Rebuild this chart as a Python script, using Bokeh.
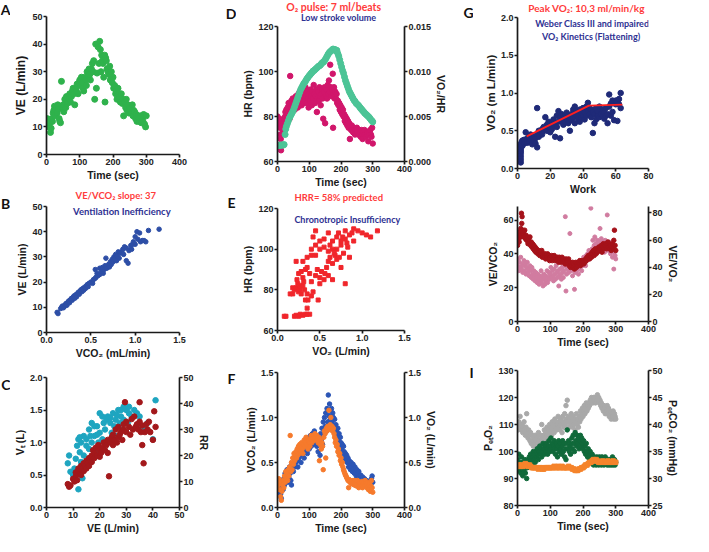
from bokeh.plotting import figure
from bokeh.models import Range1d, LinearAxis, FixedTicker, PrintfTickFormatter, Label
from bokeh.layouts import row, column
from bokeh.embed import file_html
from bokeh.resources import INLINE

AXF = "Liberation Sans"
TF = "Lato"

# ---------------- data ----------------
A_pts = [(0,12),(2,13),(4,11),(6,12.5),(8,10),(10,11.5),(12,8),(14,9.5),(16,13),(18,12),(20,15),(22,16),
         (24,17.5),(26,14),(28,16),(30,17),(32,15),(34,18),(36,16.5),(38,13),(40,12),(42,11.5),(45,26.5),
         (48,17),(50,18),(52,15.5),(55,20),(58,17),(60,21),(62,18.5),(65,19),(68,20.5),(70,22),(72,19),
         (75,21),(78,23),(80,24),(82,22),(85,18),(88,24),(90,23),(92,25.5),(95,22),(98,26),(100,27),
         (102,25),(105,28),(108,26),(110,24),(112,23),(115,28),(118,27),(120,25),(122,30),(125,28.5),
         (128,31),(130,29),(132,27),(135,31),(138,33),(140,30),(142,34),(145,20),(148,40),(150,24),
         (152,29.5),(155,39),(158,33),(160,41),(162,38),(164,30),(166,36),(168,34),(170,33),(172,28),
         (175,36),(176,19),(178,35),(180,34),(182,31),(185,30),(188,29),(190,32),(192,27),(195,30),
         (198,26),(200,28),(202,24),(205,25),(208,22),(210,23),(212,20),(215,24),(218,22),(220,21),
         (222,19),(225,22),(228,18.5),(230,20),(232,14),(235,19),(238,17),(240,20),(242,16),(245,18),
         (248,15),(250,17),(252,16.5),(255,15),(258,18),(260,14),(262,16),(265,15.5),(268,13),(270,14.5),
         (272,12),(275,14),(278,13),(280,12),(282,14),(285,11.5),(288,13),(290,12),(292,14.5),(295,11),
         (298,10),(300,14)]

B_pts = [(0.12,8),(0.13,7.5),(0.16,9.5),(0.17,10),(0.18,10.5),(0.19,9.8),(0.2,10.2),(0.21,11),(0.22,11.5),
         (0.23,10.8),(0.24,12),(0.25,12.5),(0.26,11.8),(0.27,13),(0.28,13.5),(0.29,12.8),(0.3,14),(0.31,14.5),
         (0.32,13.6),(0.33,15),(0.34,14.2),(0.35,15.5),(0.36,16),(0.37,15.2),(0.38,16.5),(0.39,17),(0.4,16.2),
         (0.41,17.5),(0.42,16.8),(0.43,18),(0.44,17.5),(0.45,18.5),(0.46,19),(0.47,18.2),(0.48,19.5),(0.5,20),
         (0.52,19.5),(0.53,21),(0.55,21.5),(0.55,25),(0.56,22),(0.57,23.5),(0.58,22.5),(0.6,23),(0.6,25.5),
         (0.62,24),(0.63,25.8),(0.64,23.5),(0.65,25),(0.66,26.5),(0.67,29.5),(0.68,25.5),(0.7,27),(0.71,26),
         (0.72,28),(0.73,27),(0.74,29),(0.75,28),(0.76,30),(0.77,29),(0.78,31),(0.79,28.5),(0.8,30.5),
         (0.81,32),(0.82,29.5),(0.83,31.5),(0.85,32),(0.86,33),(0.87,31),(0.88,34),(0.9,28.5),(0.9,33.5),
         (0.92,27.5),(0.93,32.5),(0.95,34.5),(0.96,33),(0.97,35),(0.98,36),(1.0,38),(1.0,35),(1.02,40),
         (1.03,37),(1.05,39.5),(1.06,36),(1.08,36.5),(1.1,36.5),(1.12,36),(1.15,40.5),(1.27,41)]

C_vt = [(8,0.68),(8.5,0.8),(9,0.55),(10,0.5),(10.5,0.6),(11,0.75),(11.5,0.95),(12,1.05),(12,0.28),
        (12.5,0.85),(13,0.7),(13,1.0),(13.5,0.45),(14,1.1),(14,0.8),(15,0.95),(15.5,0.65),(16,1.2),(16,0.9),
        (17,1.3),(17,1.0),(18,1.1),(18.5,0.85),(19,1.25),(19.5,1.0),(20,1.45),(20,1.15),(21,1.05),(21.5,1.3),
        (22,1.2),(22.5,1.35),(23,1.0),(23,1.4),(24,1.3),(24.5,1.15),(25,1.45),(25.5,1.25),(26,1.35),(26,1.1),
        (27,1.5),(27.5,1.3),(28,1.4),(28.5,1.2),(29,1.55),(29,1.35),(30,1.5),(30.5,1.3),(31,1.45),(32,1.4),
        (33,1.5),(34,1.45),(35,1.4),(36,1.25),(37,1.2),(38,1.3),(40,1.05),(41,1.65),(15,1.05),(18,1.25),
        (21,1.4),(24,1.38),(26.5,1.42),(28,1.5),(31,1.55),(12.5,1.08),(16.5,1.1),(19,1.12)]
C_rr = [(8,9),(8.5,8),(9,8.5),(10,11),(10.5,10),(11,12),(11,13.5),(11.5,10.5),(12,15),(12,14),(12.5,13),
        (13,16),(13,12.5),(13.5,15),(14,17),(14,14),(14.5,16),(15,18),(15,15),(15.5,17),(16,19),(16,16),
        (16.5,18),(17,20),(17,17.5),(17.5,22),(18,19),(18,21),(18.5,23),(19,20),(19.5,24),(20,22),(20,19.5),
        (20.5,21),(21,23),(21.5,25),(22,22),(22.5,24),(23,26),(23.5,12),(23,21),(24,25),(24.5,27),(25,24),
        (25,28),(25.5,26),(26,30),(26.5,25),(27,27),(27,31),(27.5,28),(28,29),(28.5,26),(29,30),(29.5,40.5),
        (29,32),(30,29),(30,33),(31,31),(31.5,28),(32,34),(32.5,30),(33,35),(33.5,31),(34,32),(34.5,30),
        (35,33),(35,40.5),(35.5,29),(36,31.5),(36,24),(36.5,17),(37,29),(38,30),(39,29),(40,26),(40.5,37),
        (41,31),(38.5,33),(37.5,32)]

D_hr = [(0,80),(2,78),(3,76),(5,77),(6,79),(8,75),(9,72),(10,70),(11,65),(12,67),(14,78),(15,76),(17,74),
        (18,77),(20,79),(22,76),(24,80),(25,82),(27,78),(28,83),(30,81),(32,84),(34,80),(35,86),(37,83),
        (38,79),(40,98),(42,84),(44,87),(45,82),(47,85),(48,88),(50,84),(52,86),(54,83),(56,87),(58,89),
        (60,85),(62,88),(64,84),(66,90),(68,86),(70,91),(72,87),(74,89),(76,85),(78,92),(80,88),(82,86),
        (84,90),(86,87),(88,93),(90,89),(92,86),(94,91),(96,88),(98,84),(100,90),(102,87),(104,92),(106,89),
        (108,85),(110,91),(112,88),(114,94),(116,90),(118,86),(120,89),(122,92),(124,82),(126,88),(128,91),
        (130,87),(132,93),(134,89),(136,85),(138,90),(140,92),(142,88),(144,79),(146,91),(148,93),(150,77),
        (152,89),(154,92),(156,88),(158,94),(160,90),(162,96),(164,91),(166,103),(168,93),(170,89),(172,92),
        (174,99),(175,75),(176,90),(178,93),(180,88),(182,91),(184,88),(186,90),(188,86),(190,87),(192,85),
        (194,86),(196,83),(198,85),(200,82),(202,84),(204,81),(206,83),(208,80),(210,81),(212,78),(214,80),
        (216,77),(218,79),(220,76),(222,78),(224,75),(226,77),(228,70),(230,76),(232,74),(234,76),(236,74),
        (238,73),(240,75),(242,74),(244,72),(246,74),(248,73),(250,75),(252,73),(254,72),(256,74),(258,72),
        (260,73),(262,71),(264,74),(266,72),(268,70),(270,73),(272,72),(274,74),(276,72),(278,71),(280,73),
        (282,72),(284,73),(286,69),(288,73),(290,72),(292,74),(294,72),(296,71),(298,75),(300,68)]
D_o2 = [(0,0.00175),(3,0.00180),(6,0.00178),(9,0.00183),(12,0.00180),(15,0.00185),(18,0.00182),(21,0.00188),
        (24,0.00300),(26,0.00360),(28,0.00390),(31,0.00420),(34,0.00450),(37,0.00480),(40,0.00500),
        (43,0.00520),(46,0.00540),(49,0.00560),(52,0.00590),(55,0.00620),(58,0.00650),(61,0.00680),
        (64,0.00710),(67,0.00740),(70,0.00770),(73,0.00800),(76,0.00820),(79,0.00840),(82,0.00860),
        (85,0.00875),(88,0.00890),(91,0.00910),(94,0.00925),(97,0.00940),(100,0.00955),(103,0.00965),
        (106,0.00980),(109,0.00990),(112,0.01005),(115,0.01010),(118,0.01020),(121,0.01030),(124,0.01040),
        (127,0.01050),(130,0.01060),(133,0.01065),(136,0.01075),(139,0.01090),(142,0.01100),(145,0.01105),
        (148,0.01120),(151,0.01135),(154,0.01155),(157,0.01175),(160,0.01195),(163,0.01210),(166,0.01220),
        (169,0.01230),(172,0.01240),(175,0.01250),(178,0.01240),(181,0.01245),(184,0.01230),(187,0.01235),
        (190,0.01200),(193,0.01170),(196,0.01130),(199,0.01090),(202,0.01050),(205,0.01010),(208,0.00980),
        (211,0.00940),(214,0.00900),(217,0.00870),(220,0.00840),(223,0.00810),(226,0.00780),(229,0.00760),
        (232,0.00740),(235,0.00720),(238,0.00700),(241,0.00680),(244,0.00670),(247,0.00650),(250,0.00640),
        (253,0.00630),(256,0.00620),(259,0.00605),(262,0.00590),(265,0.00580),(268,0.00565),(271,0.00555),
        (274,0.00540),(277,0.00530),(280,0.00520),(283,0.00510),(286,0.00500),(289,0.00490),(292,0.00475),
        (295,0.00460),(298,0.00450),(300,0.00440)]

E_pts = [(0.08,67),(0.1,67),(0.2,67),(0.22,67.5),(0.25,67),(0.27,68),(0.3,67.5),(0.33,68),(0.35,68),(0.38,68),
         (0.35,71),(0.33,75),(0.36,75),(0.48,75),(0.15,78),(0.18,78),(0.2,80),(0.22,81),(0.18,81),(0.25,79),
         (0.27,82),(0.3,82),(0.32,80),(0.35,78),(0.4,77),(0.42,79),(0.23,85),(0.25,88),(0.28,89),(0.3,86),
         (0.33,90),(0.35,91),(0.38,88),(0.22,94),(0.4,84),(0.45,87),(0.5,86),(0.5,83),(0.55,85),(0.6,87),
         (0.58,91),(0.65,85),(0.47,90),(0.3,94),(0.35,96),(0.4,97),(0.45,97),(0.4,100),(0.45,102),(0.5,100),
         (0.55,101),(0.6,99),(0.62,96),(0.65,93),(0.6,94),(0.7,95),(0.75,91),(0.7,100),(0.75,102),(0.78,98),
         (0.65,104),(0.7,106),(0.8,105),(0.85,107),(0.88,108),(0.9,110),(0.95,109),(1.0,108),(1.05,107),
         (1.1,106),(1.18,109),(0.6,108),(0.55,105),(0.45,109),(0.42,106),(0.5,104),(0.8,83),(0.85,96),
         (0.9,104),(0.65,100),(0.75,104),(0.8,109),(0.83,101),(0.68,97),(0.72,108),(0.62,102),(0.26,80),
         (0.28,78),(0.31,84),(0.24,83),(0.56,88),(0.52,89),(0.67,98),(0.73,96),(0.77,106),(0.82,103)]

F_co2 = [(0,0.25),(2,0.3),(4,0.22),(6,0.27),(8,0.18),(10,0.15),(12,0.1),(14,0.22),(16,0.28),(18,0.2),
         (20,0.32),(22,0.25),(24,0.38),(26,0.3),(28,0.35),(30,0.42),(32,0.28),(34,0.4),(36,0.33),(38,0.45),
         (40,0.38),(42,0.3),(44,0.25),(46,0.42),(48,0.48),(50,0.4),(52,0.5),(54,0.45),(56,0.55),(58,0.5),
         (60,0.58),(62,0.52),(64,0.45),(66,0.6),(68,0.55),(70,0.65),(72,0.58),(74,0.5),(76,0.62),(78,0.7),
         (80,0.6),(82,0.68),(84,0.55),(86,0.72),(88,0.62),(90,0.66),(92,0.75),(94,0.6),(96,0.7),(98,0.78),
         (100,0.65),(102,0.72),(104,0.8),(106,0.68),(108,0.75),(110,0.82),(112,0.7),(114,0.78),(116,0.85),
         (118,0.72),(120,0.8),(122,0.76),(124,0.68),(126,0.74),(128,0.62),(130,0.7),(132,0.78),(134,0.58),
         (136,0.82),(138,0.75),(140,0.88),(142,0.7),(144,0.95),(146,0.82),(148,1.0),(150,0.9),(152,1.05),
         (154,0.85),(156,1.1),(158,0.95),(160,1.25),(162,1.02),(164,1.15),(166,0.98),(168,1.08),(170,1.1),
         (172,0.95),(174,1.05),(176,1.0),(178,0.9),(180,0.98),(182,0.88),(184,0.92),(186,0.85),(188,0.8),
         (190,0.88),(192,0.75),(194,0.82),(196,0.7),(198,0.78),(200,0.72),(202,0.65),(204,0.7),(206,0.6),
         (208,0.68),(210,0.62),(212,0.55),(214,0.6),(216,0.52),(218,0.58),(220,0.5),(222,0.55),(224,0.45),
         (226,0.52),(228,0.48),(230,0.42),(232,0.5),(234,0.45),(236,0.4),(238,0.48),(240,0.42),(242,0.38),
         (244,0.45),(246,0.4),(248,0.35),(250,0.42),(252,0.38),(254,0.33),(256,0.4),(258,0.35),(260,0.3),
         (262,0.36),(264,0.32),(266,0.28),(268,0.34),(270,0.3),(272,0.27),(274,0.32),(276,0.28),(278,0.25),
         (280,0.3),(282,0.27),(284,0.24),(286,0.29),(288,0.26),(290,0.28),(292,0.24),(294,0.3),(296,0.32),
         (298,0.35),(300,0.28)]
F_o2 = [(0,0.3),(2,0.25),(4,0.32),(6,0.2),(8,0.28),(10,0.12),(12,0.08),(14,0.18),(16,0.25),(18,0.3),
        (20,0.22),(22,0.35),(24,0.28),(26,0.4),(28,0.32),(30,0.38),(32,0.3),(34,0.42),(36,0.35),(38,0.45),
        (40,0.8),(42,0.4),(44,0.5),(46,0.42),(48,0.55),(50,0.48),(52,0.6),(54,0.52),(56,0.58),(58,0.62),
        (60,0.55),(62,0.65),(64,0.58),(66,0.68),(68,0.6),(70,0.7),(72,0.62),(74,0.66),(76,0.72),(78,0.65),
        (80,0.6),(82,0.7),(84,0.75),(86,0.68),(88,0.72),(90,0.78),(92,0.7),(94,0.74),(96,0.65),(98,0.75),
        (100,0.72),(102,0.68),(104,0.76),(106,0.8),(108,0.72),(110,0.78),(112,0.74),(114,0.8),(116,0.76),
        (118,0.82),(120,0.78),(122,0.75),(124,0.8),(126,0.77),(128,0.72),(130,0.78),(132,0.52),(134,0.7),
        (136,0.75),(138,0.65),(140,0.72),(142,0.68),(144,0.42),(146,0.78),(148,0.85),(150,0.82),(152,0.55),
        (154,0.88),(156,0.85),(158,0.9),(160,0.87),(162,1.08),(164,0.88),(166,0.92),(168,1.0),(170,0.86),
        (172,0.9),(174,0.85),(176,0.88),(178,0.82),(180,0.78),(182,0.72),(184,0.75),(186,0.68),(188,0.7),
        (190,0.62),(192,0.65),(194,0.58),(196,0.6),(198,0.52),(200,0.55),(202,0.48),(204,0.5),(206,0.45),
        (208,0.42),(210,0.4),(212,0.38),(214,0.36),(216,0.35),(218,0.33),(220,0.32),(222,0.3),(224,0.22),
        (226,0.31),(228,0.28),(230,0.3),(232,0.27),(234,0.29),(236,0.26),(238,0.3),(240,0.28),(242,0.25),
        (244,0.3),(246,0.27),(248,0.24),(250,0.28),(252,0.3),(254,0.26),(256,0.22),(258,0.28),(260,0.25),
        (262,0.27),(264,0.24),(266,0.29),(268,0.22),(270,0.26),(272,0.28),(274,0.25),(276,0.3),(278,0.27),
        (280,0.25),(282,0.22),(284,0.28),(286,0.2),(288,0.25),(290,0.27),(292,0.18),(294,0.24),(296,0.3),
        (298,0.22),(300,0.17)]

G_pts = [(2,0.08),(2,0.12),(2,0.16),(2,0.2),(2,0.23),(2,0.26),(2,0.29),(2,0.32),(2.5,0.35),(3,0.3),(3,0.37),
         (4,0.33),(4,0.38),(5,0.35),(5,0.48),(6,0.4),(6,0.34),(7,0.36),(7,0.42),(8,0.38),(8,0.45),(9,0.32),
         (9,0.4),(10,0.36),(10,0.42),(11,0.4),(11,0.33),(12,0.28),(12,0.8),(12,0.45),(13,0.42),(13,0.5),
         (14,0.48),(15,0.52),(15,0.45),(16,0.55),(16,0.5),(17,0.68),(17,0.52),(18,0.58),(18,0.5),(19,0.55),
         (19,0.62),(20,0.55),(20,0.48),(21,0.6),(21,0.52),(22,0.58),(22,0.65),(23,0.42),(23,0.6),(24,0.55),
         (24,0.7),(25,0.62),(25,0.76),(26,0.4),(26,0.68),(27,0.62),(27,0.72),(28,0.65),(28,0.58),(29,0.7),
         (29,0.62),(30,0.66),(30,0.74),(31,0.6),(31,0.7),(32,0.5),(32,0.68),(33,0.72),(33,0.64),(34,0.78),
         (34,0.68),(35,0.82),(35,0.6),(36,0.7),(36,0.76),(37,0.66),(37,0.72),(38,0.62),(38,0.78),(39,0.68),
         (39,0.74),(40,0.8),(40,0.7),(41,0.75),(41,0.65),(42,0.82),(42,0.7),(43,0.87),(43,0.76),(44,0.72),
         (44,0.8),(45,0.68),(45,0.78),(46,0.47),(46,0.75),(47,0.6),(47,0.72),(48,0.8),(48,0.65),(49,0.74),
         (49,0.7),(50,0.82),(50,0.68),(51,0.76),(51,0.72),(52,0.78),(52,0.7),(53,0.74),(53,0.66),(54,0.8),
         (54,0.7),(55,0.72),(55,0.6),(56,0.98),(56,0.82),(57,0.86),(57,0.7),(58,0.9),(58,0.75),(59,0.88),
         (59,0.64),(60,0.9),(60,0.85),(61,0.63),(61,0.88),(62,0.92),(62,0.85),(63,1.0),(63,0.8)]
G_fit_x = [5.6, 43.6, 64.0]
G_fit_y = [0.425, 0.833, 0.845]

H_co2 = [(0,45),(2,50),(3,48),(4,52),(5,47),(6,53),(8,51),(10,55),(11,50),(12,64),(13,58),(14,62),(15,54),
         (17,52),(19,53),(20,50),(22,54),(24,49),(26,51),(28,48),(30,50),(32,46),(34,49),(36,47),(38,50),
         (40,45),(42,47),(44,44),(46,46),(48,43),(50,45),(52,42),(54,44),(56,41),(58,43),(60,42),(62,40),
         (64,42),(66,41),(68,39),(70,41),(72,40),(74,42),(76,38),(78,40),(80,39),(82,38),(84,40),(86,37),
         (88,39),(90,38),(92,40),(94,37),(96,39),(98,36),(100,38),(102,37),(104,39),(106,36),(108,38),
         (110,37),(112,39),(114,36),(116,38),(118,37),(120,36),(122,38),(124,37),(126,35),(128,38),(130,36),
         (132,37),(134,35),(136,38),(138,36),(140,37),(142,35),(144,36),(146,34),(148,37),(150,35),(152,36),
         (154,34),(156,37),(158,33),(160,35),(162,32),(164,34),(166,33),(168,35),(170,32),(172,34),(174,31),
         (176,33),(178,35),(180,32),(182,34),(184,33),(186,35),(188,34),(190,36),(192,33),(194,35),(196,34),
         (198,36),(200,35),(202,34),(204,36),(206,35),(208,37),(210,36),(212,38),(214,37),(216,39),(218,38),
         (220,37),(222,39),(224,40),(226,38),(228,41),(230,40),(232,42),(234,39),(236,41),(238,43),(240,40),
         (242,42),(244,41),(246,43),(248,44),(250,42),(252,44),(254,43),(256,45),(258,41),(260,44),(262,46),
         (264,43),(266,45),(268,44),(270,46),(272,43),(274,45),(276,47),(278,44),(280,46),(282,43),(284,45),
         (286,42),(288,44),(290,46),(292,43),(294,48),(296,54),(298,45),(300,42)]
H_o2 = [(0,33),(2,37),(4,30),(6,35),(8,32),(10,38),(12,31),(14,34),(16,29),(18,33),(20,36),(22,30),(24,34),
        (26,28),(28,32),(30,35),(32,29),(34,31),(36,27),(38,33),(40,30),(42,26),(44,32),(46,28),(48,25),
        (50,30),(52,27),(54,24),(56,29),(58,26),(60,23),(62,28),(64,25),(66,22),(68,27),(70,24),(72,30),
        (74,23),(76,26),(78,21),(80,28),(82,25),(84,22),(86,27),(88,24),(90,30),(92,23),(94,26),(96,29),
        (98,25),(100,28),(102,32),(104,26),(106,30),(108,27),(110,24),(112,31),(114,28),(116,25),(118,33),
        (120,29),(122,26),(124,30),(126,21),(128,27),(130,31),(132,28),(134,25),(136,32),(138,29),(140,26),
        (142,30),(144,33),(146,62),(148,18),(150,28),(152,31),(154,35),(156,29),(158,32),(160,52),(162,34),
        (164,30),(166,33),(168,27),(170,31),(172,34),(174,19),(176,29),(178,32),(180,30),(182,35),(184,33),
        (186,28),(188,31),(190,34),(192,32),(194,36),(196,30),(198,33),(200,35),(202,38),(204,34),(206,37),
        (208,33),(210,39),(212,36),(214,40),(216,38),(218,42),(220,37),(222,41),(224,67),(226,39),(228,43),
        (230,48),(232,41),(234,45),(236,50),(238,42),(240,46),(242,44),(244,48),(246,43),(248,47),(250,45),
        (252,55),(254,44),(256,49),(258,46),(260,42),(262,47),(264,44),(266,41),(268,48),(270,45),(272,43),
        (274,63),(276,46),(278,42),(280,47),(282,44),(284,40),(286,45),(288,42),(290,38),(292,44),(294,31),
        (296,41),(298,39),(300,37)]

I_grey = [(0,110),(2,108),(4,111),(6,109),(8,113),(10,110),(12,108),(14,110),(16,107),(18,109),(20,111),
          (22,108),(24,106),(26,109),(28,114),(30,107),(32,105),(34,108),(36,106),(38,104),(40,107),(42,103),
          (44,106),(46,104),(48,102),(50,105),(52,103),(54,106),(56,104),(58,102),(60,105),(62,103),(64,107),
          (66,104),(68,102),(70,106),(72,104),(74,110),(76,105),(78,103),(80,106),(82,108),(84,105),(86,107),
          (88,104),(90,109),(92,106),(94,108),(96,105),(98,110),(100,107),(102,109),(104,106),(106,111),
          (108,108),(110,110),(112,107),(114,112),(116,109),(118,111),(120,108),(122,110),(124,113),(126,109),
          (128,111),(130,108),(132,112),(134,110),(136,107),(138,113),(140,111),(142,109),(144,114),(146,110),
          (148,117),(150,112),(152,119),(154,111),(156,113),(158,109),(160,112),(162,110),(164,114),(166,111),
          (168,109),(170,113),(172,110),(174,112),(176,108),(178,111),(180,114),(182,110),(184,112),(186,109),
          (188,113),(190,111),(192,115),(194,112),(196,114),(198,116),(200,113),(202,115),(204,117),(206,114),
          (208,116),(210,118),(212,115),(214,117),(216,116),(218,118),(220,117),(222,119),(224,118),(226,120),
          (228,119),(230,118),(232,120),(234,119),(236,120),(238,118),(240,120),(242,119),(244,121),(246,119),
          (248,120),(250,118),(252,119),(254,117),(256,118),(258,116),(260,117),(262,115),(264,117),(266,116),
          (268,114),(270,116),(272,115),(274,117),(276,114),(278,116),(280,113),(282,115),(284,114),(286,112),
          (288,114),(290,113),(292,115),(294,112),(296,114),(298,113),(300,112)]
I_green = [(0,97),(2,95),(4,99),(6,93),(8,96),(10,92),(12,98),(14,94),(16,91),(18,96),(20,93),(22,97),
           (24,92),(26,95),(28,90),(30,94),(32,97),(34,95),(36,98),(38,96),(40,99),(42,97),(44,95),(46,98),
           (48,100),(50,97),(52,99),(54,96),(56,100),(58,98),(60,101),(62,99),(64,97),(66,100),(68,102),
           (70,99),(72,101),(74,98),(76,100),(78,103),(80,101),(82,99),(84,102),(86,100),(88,103),(90,101),
           (92,99),(94,102),(96,104),(98,100),(100,102),(102,105),(104,101),(106,103),(108,100),(110,102),
           (112,104),(114,101),(116,99),(118,103),(120,101),(122,98),(124,102),(126,104),(128,100),(130,103),
           (132,101),(134,99),(136,102),(138,104),(140,100),(142,103),(144,98),(146,101),(148,97),(150,103),
           (152,108),(154,101),(156,104),(158,100),(160,102),(162,99),(164,103),(166,105),(168,101),(170,106),
           (172,103),(174,100),(176,107),(178,104),(180,102),(182,106),(184,103),(186,105),(188,101),(190,104),
           (192,106),(194,102),(196,105),(198,103),(200,101),(202,104),(204,100),(206,102),(208,99),(210,103),
           (212,100),(214,98),(216,101),(218,99),(220,97),(222,100),(224,98),(226,96),(228,99),(230,97),
           (232,95),(234,98),(236,96),(238,97),(240,95),(242,98),(244,96),(246,97),(248,95),(250,98),(252,96),
           (254,97),(256,95),(258,98),(260,96),(262,97),(264,95),(266,96),(268,98),(270,96),(272,97),(274,95),
           (276,96),(278,97),(280,95),(282,96),(284,97),(286,95),(288,96),(290,98),(292,95),(294,96),(296,97),
           (298,95),(300,96)]
I_orange = [(0,94.5),(4,95),(8,94.5),(12,95),(16,94.5),(20,95),(24,95.5),(28,95),(32,94.5),(36,95),(40,94.5),
            (44,94),(48,94),(52,94),(56,94),(60,94),(64,93.5),(68,94),(72,94),(76,93.5),(80,93.5),(84,94),
            (88,94),(92,94),(96,94),(100,94),(104,94),(108,94),(112,94.5),(116,94),(120,94),(124,94.5),
            (128,94),(132,94),(136,94.5),(140,94),(144,94),(148,94),(152,94),(156,94.5),(160,94),(164,94),
            (168,93.5),(172,93.5),(176,93),(180,93),(184,93),(188,93.5),(192,93.5),(196,94),(200,94),
            (204,94.5),(208,95),(212,95),(216,95.5),(220,96),(224,96),(228,96.5),(232,97),(236,96.5),(240,97),
            (244,96.5),(248,96),(252,96),(256,96),(260,96.5),(264,96),(268,96),(272,96),(276,96.5),(280,96),
            (284,96),(288,96),(292,96.5),(296,96),(300,96)]

TIME_TICKS = [0, 100, 200, 300, 400]

# ---------------- helpers ----------------
def xs(pts):
    return [q[0] for q in pts]

def ys(pts):
    return [q[1] for q in pts]

def make_fig(w, h, bl, br, bt, bb, xr, yr):
    p = figure(width=w, height=h, x_range=Range1d(*xr), y_range=Range1d(*yr),
               output_backend="svg", toolbar_location=None,
               min_border_left=bl, min_border_right=br, min_border_top=bt, min_border_bottom=bb)
    p.outline_line_color = None
    p.xgrid.visible = False
    p.ygrid.visible = False
    p.background_fill_color = "white"
    return p

def style_axis(ax, ticks, label, fmt=None, lsize="10.5px"):
    ax.ticker = FixedTicker(ticks=ticks)
    ax.axis_label = label
    ax.axis_line_width = 1.7
    ax.axis_line_color = "#1a1a1a"
    ax.major_tick_line_width = 1.7
    ax.major_tick_line_color = "#1a1a1a"
    ax.major_tick_out = 3
    ax.major_tick_in = 0
    ax.minor_tick_line_color = None
    ax.major_label_text_font = AXF
    ax.major_label_text_font_style = "bold"
    ax.major_label_text_font_size = "9px"
    ax.major_label_text_color = "#222222"
    ax.axis_label_text_font = AXF
    ax.axis_label_text_font_style = "bold"
    ax.axis_label_text_font_size = lsize
    ax.axis_label_text_color = "#1a1a1a"
    ax.axis_label_standoff = 1
    ax.major_label_standoff = 1
    if fmt:
        ax.formatter = PrintfTickFormatter(format=fmt)

def right_axis(p, rng, ticks, label, fmt=None):
    p.extra_y_ranges = {"r": Range1d(*rng)}
    ax = LinearAxis(y_range_name="r")
    style_axis(ax, ticks, label, fmt)
    p.add_layout(ax, "right")

def lab(p, x, y, text, color, size="10px", font=TF):
    p.add_layout(Label(x=x, y=y, text=text, text_color=color, text_font=font,
                       text_font_size=size, text_font_style="bold",
                       text_align="center", text_baseline="middle"))

def blank(w, h):
    # empty canvas whose data units are its own pixels (origin bottom-left)
    s = figure(width=w, height=h, x_range=Range1d(0, w), y_range=Range1d(0, h),
               output_backend="svg", toolbar_location=None, title=None,
               x_axis_type=None, y_axis_type=None, min_border=0,
               min_border_left=0, min_border_right=0, min_border_top=0, min_border_bottom=0)
    s.outline_line_color = None
    return s

def letter(s, x, top, text):
    lab(s, x, s.height - top, text, "#111111", "14px")

def head(s, x, top, text, color, size):
    lab(s, x, s.height - top, text, color, size)

RED = "#ff3b3b"
NAVY = "#2e3192"

# ================= column 1 =================
L1 = 10
W1 = 225 - L1
pA = make_fig(W1, 183, 39 - L1, 46, 16, 29, (0, 400), (0, 50))
style_axis(pA.xaxis[0], TIME_TICKS, "Time (sec)")
style_axis(pA.yaxis[0], [0, 10, 20, 30, 40, 50], "VE (L/min)", lsize="12px")
pA.scatter(xs(A_pts), ys(A_pts), size=6, color="#2fb24c")

tB = blank(W1, 20)
head(tB, 112, 12, "VE/VCO₂ slope: 37", RED, "9.5px")

pB = make_fig(W1, 158, 42 - L1, 45, 3, 29, (0, 1.5), (0, 50))
style_axis(pB.xaxis[0], [0, 0.5, 1.0, 1.5], "VCO₂ (mL/min)", "%.1f")
style_axis(pB.yaxis[0], [0, 10, 20, 30, 40, 50], "VE (L/min)")
pB.scatter(xs(B_pts), ys(B_pts), size=4.5, color="#2d4ea6")
lab(pB, 0.85, 48.0, "Ventilation Inefficiency", NAVY, "9.5px")

pC = make_fig(W1, 175, 44 - L1, 44, 16, 27, (0, 50), (0, 2.0))
style_axis(pC.xaxis[0], [0, 10, 20, 30, 40, 50], "VE (L/min)")
style_axis(pC.yaxis[0], [0, 0.5, 1.0, 1.5, 2.0], "Vₜ (L)", "%.1f")
right_axis(pC, (0, 50), [0, 10, 20, 30, 40, 50], "RR")
pC.scatter(xs(C_vt), ys(C_vt), size=5.5, color="#1ea5c0")
pC.scatter(xs(C_rr), ys(C_rr), size=5.5, color="#a3181b", y_range_name="r")

s1 = blank(L1, 536)
letter(s1, 5, 9, "A")
letter(s1, 5, 203, "B")
letter(s1, 5.5, 384, "C")
col1 = row(s1, column(pA, tB, pB, pC))

# ================= column 2 =================
L2 = 11
W2 = 234 - L2
tD = blank(W2, 23)
head(tD, 98.6, 6, "O₂ pulse: 7 ml/beats", RED, "10.5px")
head(tD, 107.5, 17, "Low stroke volume", NAVY, "9px")

pD = make_fig(W2, 167, 39 - L2, 54, 3, 29, (0, 400), (60, 120))
style_axis(pD.xaxis[0], TIME_TICKS, "Time (sec)")
style_axis(pD.yaxis[0], [60, 80, 100, 120], "HR (bpm)")
right_axis(pD, (0, 0.015), [0, 0.005, 0.010, 0.015], "VO₂/HR", "%.3f")
pD.scatter(xs(D_hr), ys(D_hr), size=5.5, color="#d1166b")
pD.scatter(xs(D_o2), ys(D_o2), size=6, color="#4cc496", y_range_name="r")

tE = blank(W2, 14)
head(tE, 107.5, 7, "HRR= 58% predicted", RED, "9.5px")

pE = make_fig(W2, 155, 43 - L2, 55, 4, 26, (0, 1.5), (60, 120))
style_axis(pE.xaxis[0], [0, 0.5, 1.0, 1.5], "VO₂ (L/min)", "%.1f")
style_axis(pE.yaxis[0], [60, 80, 100, 120], "HR (bpm)")
pE.scatter(xs(E_pts), ys(E_pts), size=4, marker="square", color="#f0262b")
lab(pE, 0.825, 114.5, "Chronotropic Insufficiency", NAVY, "9px")

pF = make_fig(W2, 177, 52 - L2, 45, 13, 29, (0, 400), (0, 1.5))
style_axis(pF.xaxis[0], TIME_TICKS, "Time (sec)")
style_axis(pF.yaxis[0], [0, 0.5, 1.0, 1.5], "VCO₂ (L/min)", "%.1f")
right_axis(pF, (0, 1.5), [0, 0.5, 1.0, 1.5], "VO₂ (L/min)", "%.1f")
pF.scatter(xs(F_co2), ys(F_co2), size=4.5, color="#2b55b5")
pF.scatter(xs(F_o2), ys(F_o2), size=4.5, color="#f67a2c", y_range_name="r")

s2 = blank(L2, 536)
letter(s2, 5.5, 13, "D")
letter(s2, 6, 202, "E")
letter(s2, 6, 378, "F")
col2 = row(s2, column(tD, pD, tE, pE, pF))

# ================= column 3 =================
L3 = 14
W3 = 234 - L3
tG = blank(W3, 14)
head(tG, 116, 7, "Peak VO₂: 10,3 ml/min/kg", RED, "10px")

pG = make_fig(W3, 187, 49 - L3, 45, 3, 33, (0, 80), (0, 2.0))
style_axis(pG.xaxis[0], [0, 20, 40, 60, 80], "Work")
style_axis(pG.yaxis[0], [0, 0.5, 1.0, 1.5, 2.0], "VO₂ (m L/min)", "%.1f", lsize="11.5px")
pG.scatter(xs(G_pts), ys(G_pts), size=5.5, color="#1f2a78")
pG.line(G_fit_x, G_fit_y, line_color="#ff1f1f", line_width=1.8)
lab(pG, 45.6, 1.92, "Weber Class III and impaired", NAVY, "9px")
lab(pG, 45.6, 1.75, "VO₂ Kinetics  (Flattening)", NAVY, "9px")

pH = make_fig(W3, 149, 55 - L3, 41, 5, 29, (0, 400), (0, 68))
style_axis(pH.xaxis[0], TIME_TICKS, "Time (sec)")
style_axis(pH.yaxis[0], [0, 20, 40, 60], "VE/VCO₂")
right_axis(pH, (0, 84.7), [0, 20, 40, 60, 80], "VE/VO₂")
pH.scatter(xs(H_o2), ys(H_o2), size=4, color="#d17ca0")
pH.scatter(xs(H_co2), ys(H_co2), size=4.5, color="#a5121a")

pI = make_fig(W3, 186, 58 - L3, 40, 20, 31, (0, 400), (80, 130))
style_axis(pI.xaxis[0], TIME_TICKS, "Time (sec)")
style_axis(pI.yaxis[0], [80, 90, 100, 110, 120, 130], "PₑₜO₂")
right_axis(pI, (25, 50), [25, 30, 35, 40, 45, 50], "PₑₜCO₂ (mmHg)")
pI.scatter(xs(I_grey), ys(I_grey), size=4.5, color="#a9a9a9")
pI.scatter(xs(I_green), ys(I_green), size=4.5, color="#10693a")
pI.scatter(xs(I_orange), ys(I_orange), size=4.5, marker="square", color="#f5842c")

s3 = blank(L3, 536)
letter(s3, 9, 12, "G")
letter(s3, 12, 372, "I")
col3 = row(s3, column(tG, pG, pH, pI))

layout = row(col1, col2, col3)
open("out.html", "w").write(file_html(layout, INLINE))
